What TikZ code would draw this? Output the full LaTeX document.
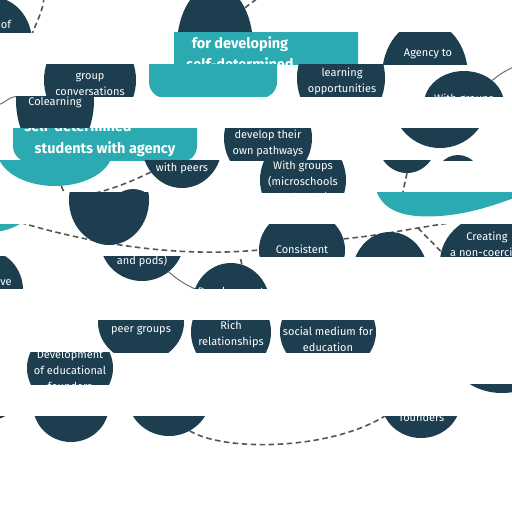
\documentclass[tikz,border=0pt]{standalone}
\usepackage{fontspec}
\setmainfont{Fira Sans}
\usetikzlibrary{shapes.geometric}

\definecolor{navy}{HTML}{1C3E4F}
\definecolor{tealc}{HTML}{2CAAB1}
\definecolor{linkgrey}{HTML}{555555}

\tikzset{
  blob/.style 2 args={ellipse, fill=navy, inner sep=0pt, minimum width=#1, minimum height=#2},
  pool/.style 2 args={ellipse, fill=tealc, inner sep=0pt, minimum width=#1, minimum height=#2},
  hub/.style 2 args={rectangle, rounded corners=16pt, fill=tealc, inner sep=0pt, minimum width=#1, minimum height=#2},
  lbl/.style={text=white, align=center, inner sep=0pt, font=\fontsize{11}{16}\selectfont},
  hubtxt/.style={text=white, align=center, inner sep=0pt, font=\bfseries\fontsize{14.5}{21}\selectfont},
  link/.style={draw=linkgrey, line width=1.6pt, dash pattern=on 5.5pt off 3.5pt},
  tie/.style={draw=linkgrey!85, line width=1pt},
}

\begin{document}
\begin{tikzpicture}[x=1pt, y=-1pt]
            
            \path[use as bounding box, fill=white] (0,0) rectangle (512,512);
            
            % Strip 1
            
            \begin{scope}
              \clip (0,0) rectangle (512,32);
              \node[blob={80}{90}] (ofb) at (-8,42) {};
              \node[lbl] (oft) at (6,24) {of};
              \node[blob={76}{122}] (topb) at (215,46) {};
              \coordinate (a1) at (44,-3);
              \coordinate (a2) at (266,-8);
              \draw[link] (a1) to[out=-95,in=70] (ofb.10);
              \draw[link] (topb.52) -- (a2);
            \end{scope}
            
            % Strip 2
            
            \begin{scope}
              \clip (0,32) rectangle (512,64);
              \node[hub={184}{70}] (hubtop) at (266,50) {};
              \node[hubtxt] (hubtopt) at (240,53.5) {for developing\\self-determined};
              \node[blob={86}{110}] (agb) at (425,76) {};
              \node[lbl] (agt) at (428,54) {Agency to};
            \end{scope}
            
            % Strip 3
            
            \begin{scope}
              \clip (0,64) rectangle (512,96);
              \node[blob={92}{100}] (grb) at (90,80) {};
              \node[lbl] (grt) at (90,84) {group\\conversations};
              \node[hub={128}{60}] (hubmid) at (213,68) {};
              \node[blob={88}{100}] (lrb) at (341,78) {};
              \node[lbl] (lrt) at (342,81) {learning\\opportunities};
              \node[blob={80}{66}] (witb) at (464,104) {};
              \node[lbl] (witt) at (464,99) {With groups};
              \coordinate (c1) at (516,66);
              \draw[tie] (witb.40) to[bend left=8] (c1);
            \end{scope}
            
            % Strip 4
            
            \begin{scope}
              \clip (0,96) rectangle (512,128);
              \node[blob={78}{120}] (colb) at (55,100) {};
              \node[lbl] (colt) at (55,102) {Colearning};
              \coordinate (c2) at (-3,105);
              \draw[tie] (c2) to[out=10,in=185] (colb.175);
            \end{scope}
            
            % Strip 5
            
            \begin{scope}
              \clip (0,128) rectangle (512,160);
              \node[hub={184}{64}] (hubleft) at (105,130) {};
              \node[hubtxt] (hublefta) at (78,126) {self-determined};
              \node[hubtxt] (hubleftb) at (105,149) {students with agency};
              \node[blob={88}{90}] (devb) at (268,138) {};
              \node[lbl] (devt) at (268,143) {develop their\\own pathways};
              \node[blob={96}{96}] (rgtb) at (440,100) {};
              \node[blob={48}{54}] (domeb) at (458,182) {};
            \end{scope}
            
            % Strip 6
            
            \begin{scope}
              \clip (0,160) rectangle (512,192);
              \node[pool={116}{72}] (bowl) at (55,150) {};
              \node[blob={80}{86}] (wpb) at (182,145) {};
              \node[lbl] (wpt) at (182,168) {with peers};
              \node[blob={50}{52}] (stubb) at (133,215) {};
              \node[blob={86}{90}] (wgb) at (303,180) {};
              \node[lbl] (wgt) at (303,182) {With groups\\(microschools\\and pods)};
              \node[blob={60}{66}] (lensb) at (407,140) {};
              \coordinate (f1) at (84,196);
              \coordinate (f2) at (66,197);
              \coordinate (f3) at (402,196);
              \draw[link] (wpb.221) to[bend left=6] (f1);
              \draw[link] (bowl.280) -- (f2);
              \draw[link] (lensb.south) -- (f3);
            \end{scope}
            
            % Strip 8
            
            \begin{scope}
              \clip (0,224) rectangle (512,256);
              \node[pool={90}{64}] (tealcorner) at (-10,200) {};
              \node[blob={86}{80}] (consb) at (302,250) {};
              \node[lbl] (const) at (302,249) {Consistent};
              \node[blob={120}{100}] (creb) at (500,262) {};
              \node[lbl] (cret) at (487,244) {Creating\\a non-coercive};
              \coordinate (g1) at (12,220);
              \coordinate (br) at (418,228);
              \coordinate (g2) at (480,218);
              \draw[link] (g1) .. controls (100,247) and (185,257) .. (consb.west);
              \draw[link] (consb.15) .. controls (370,236) .. (br) -- (g2);
              \draw[link] (br) -- (creb.170);
              \node[blob={76}{86}] (midb) at (390,275) {};
            \end{scope}
            
            % Strips 7 and 8
            
            \begin{scope}
              \clip (0,192) rectangle (512,256);
              \fill[tealc] (376,190) .. controls (384,214) and (410,218) .. (440,216)
                .. controls (468,214) and (492,206) .. (514,198) -- (514,190) -- cycle;
              \node[blob={80}{90}] (dkb) at (109,200) {};
            \end{scope}
            
            % Strip 9
            
            \begin{scope}
              \clip (0,256) rectangle (512,288);
              \node[blob={76}{80}] (veb) at (-15,290) {};
              \node[lbl] (vet) at (6,283) {ve};
              \node[blob={84}{82}] (andb) at (142,240) {};
              \node[lbl] (andt) at (142,261) {and pods)};
              \node[blob={78}{84}] (devpb) at (231,305) {};
              \node[lbl] (devpt) at (231,293) {Development};
              \coordinate (i1) at (239,252);
              \draw[tie] (andb.-50) to[bend right=8] (devpb.156);
              \draw[link] (devpb.75) -- (i1);
            \end{scope}
            
            % Strip 11
            
            \begin{scope}
              \clip (0,320) rectangle (512,352);
              \node[blob={86}{80}] (peerb) at (141,322) {};
              \node[lbl] (peert) at (141,330) {peer groups};
              \node[blob={80}{84}] (richb) at (231,332) {};
              \node[lbl] (richt) at (231,334) {Rich\\relationships};
              \node[blob={96}{84}] (socb) at (328,332) {};
              \node[lbl] (soct) at (328,339) {social medium for\\education};
            \end{scope}
            
            % Strip 12
            
            \begin{scope}
              \clip (0,352) rectangle (512,384);
              \node[blob={86}{80}] (edub) at (70,368) {};
              \node[lbl] (edut) at (70,370) {Development\\of educational\\founders};
            \end{scope}
            
            % Strip 13
            
            \begin{scope}
              \clip (0,384) rectangle (512,416);
              \node[blob={100}{76}] (rimb) at (502,355) {};
            \end{scope}
            
            % Strip 14
            
            \begin{scope}
              \clip (0,416) rectangle (512,448);
              \node[blob={60}{56}] (lba) at (-10,392) {};
              \node[blob={76}{74}] (lbb) at (71,405) {};
              \node[blob={84}{82}] (lbc) at (169,395) {};
              \node[lbl] (lbct) at (169,411) {education};
              \node[blob={80}{76}] (foub) at (421,400) {};
              \node[lbl] (fout) at (422,417) {founders};
              \draw[link] (lbc.-60) .. controls (225,452) and (330,450) .. (foub.204);
            \end{scope}
            
\end{tikzpicture}
\end{document}
